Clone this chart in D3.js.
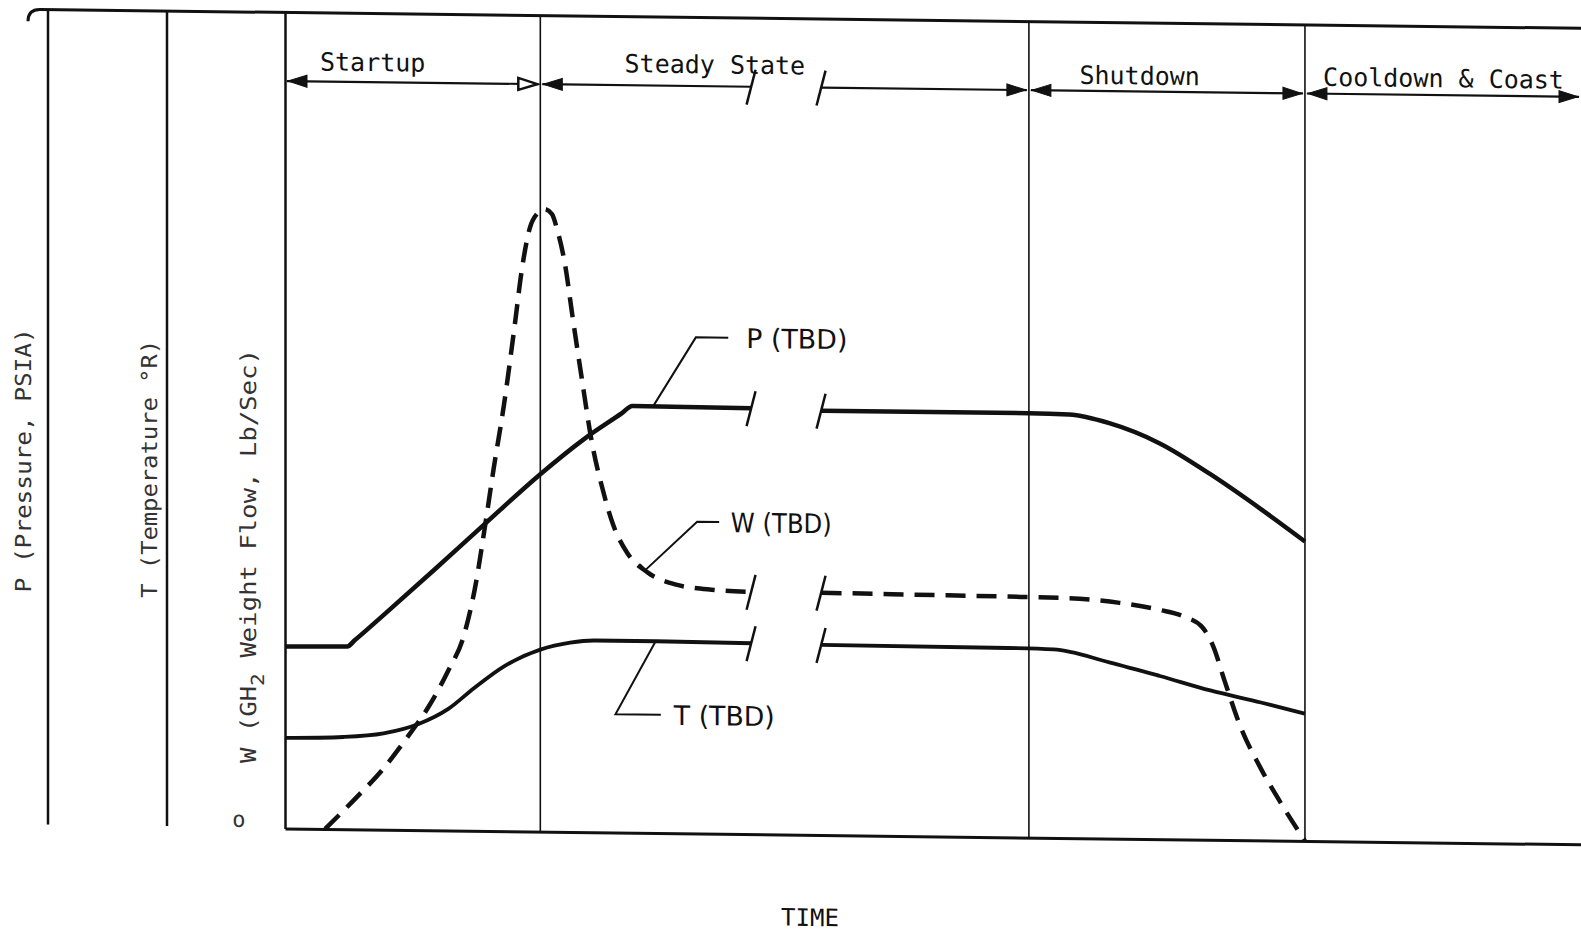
<!DOCTYPE html>
<html>
<head>
<meta charset="utf-8">
<script src="https://cdn.jsdelivr.net/npm/d3@7"></script>
<style>
  html, body { margin: 0; padding: 0; background: #fff; }
  svg { display: block; }
</style>
</head>
<body>
<svg id="chart" width="1581" height="936"></svg>
<script>
// ---- data (time and values in arbitrary chart units, 0-100) ----
var phaseNames = ["Startup", "Steady State", "Shutdown", "Cooldown & Coast"];
var phaseEdges = [0, 19.7, 57.4, 78.7, 100];
var breakGap = [36.0, 41.4]; // time axis is broken inside steady state

var pressureTime = [0, 4.8, 5.4, 7.6, 11.5, 15.4, 19.7, 23.1, 26.0, 26.8, 36.0,
                    41.4, 57.4, 60.5, 63.6, 67.5, 71.4, 75.3, 78.7];
var pressureVals = [22.3, 22.4, 23.2, 26.3, 31.9, 37.6, 43.8, 48.2, 51.4, 52.3, 52.2,
                    52.0, 52.0, 51.9, 50.9, 48.5, 44.8, 40.6, 36.7];

var flowTime = [3.1, 5.2, 7.6, 9.5, 11.1, 12.6, 13.8, 14.7, 15.4, 16.1, 16.9, 17.7, 18.3, 18.9,
                19.5, 20.0, 20.6, 21.0, 21.6, 22.2, 22.9, 23.7, 24.5, 25.3, 26.4, 28.0, 30.1, 32.9, 36.0,
                41.4, 48.0, 55.8, 60.5, 64.4, 67.5, 69.4, 70.8, 71.6, 72.5, 73.7, 75.3, 77.0, 78.7];
var flowVals = [0, 3.4, 7.5, 11.5, 15.2, 19.6, 23.9, 30.1, 37.0, 44.4, 52.3, 61.7, 69.1, 74.0,
                75.8, 76.3, 75.7, 73.8, 69.6, 63.0, 55.6, 47.6, 42.1, 37.8, 34.3, 31.9, 30.5, 29.9, 29.7,
                29.7, 29.6, 29.5, 29.4, 28.9, 28.1, 27.3, 26.0, 23.8, 19.5, 14.0, 8.8, 4.2, 0];

var tempTime = [0, 4.5, 7.6, 10.3, 12.6, 14.6, 16.9, 19.7, 22.0, 23.9, 28.6, 36.0,
                41.4, 55.8, 59.3, 63.6, 67.5, 71.4, 75.3, 78.7];
var tempVals = [11.1, 11.3, 11.8, 13.0, 14.9, 17.5, 20.2, 22.3, 23.2, 23.5, 23.5, 23.4,
                23.3, 23.2, 23.1, 21.6, 20.0, 18.3, 16.9, 15.6];

var axisTitles = ["P (Pressure, PSIA)", "T (Temperature \u00B0R)"];
var curveTags = ["P (TBD)", "W (TBD)", "T (TBD)"];

// ---- layout ----
var SKEW = 0.7; // scanned sheet is sheared a little, lines drift down to the right
var mono = "'DejaVu Sans Mono', 'Liberation Mono', monospace";
var sans = "'DejaVu Sans', 'Liberation Sans', sans-serif";
var ink = "#111";

var x = d3.scaleLinear().domain([0, 100]).range([285, 1581]);
var y = d3.scaleLinear().domain([0, 100]).range([825, 9]);

var svg = d3.select("#chart");
var root = svg.append("g").attr("transform", "skewY(" + SKEW + ")");

// frame
root.append("g")
    .attr("transform", "translate(0," + y(0) + ")")
    .call(d3.axisBottom(x).tickValues([]).tickSizeOuter(0))
    .call(function(g) { g.select(".domain").attr("stroke", ink).attr("stroke-width", 3); });
root.append("g")
    .attr("transform", "translate(" + x(0) + ",0)")
    .call(d3.axisLeft(y).tickValues([]).tickSizeOuter(0))
    .call(function(g) { g.select(".domain").attr("stroke", ink).attr("stroke-width", 2.5); });

root.append("path")
    .attr("d", "M28," + (y(100) + 12) + "Q28," + y(100) + " 40," + y(100) + "H1581")
    .attr("fill", "none").attr("stroke", ink).attr("stroke-width", 3);

// the two extra scale lines on the left (pressure and temperature)
[48, 167].forEach(function(lx) {
  root.append("line")
      .attr("x1", lx).attr("x2", lx)
      .attr("y1", y(100)).attr("y2", y(0) - 1)
      .attr("stroke", ink).attr("stroke-width", 2.5);
});

// phase boundaries
phaseEdges.slice(1, 4).forEach(function(t) {
  root.append("line")
      .attr("x1", x(t)).attr("x2", x(t))
      .attr("y1", y(100)).attr("y2", y(0))
      .attr("stroke", ink).attr("stroke-width", 1.6);
});

function slash(px, py) {
  root.append("line")
      .attr("x1", px - 5).attr("y1", py + 18)
      .attr("x2", px + 4).attr("y2", py - 17)
      .attr("stroke", ink).attr("stroke-width", 2.5);
}

function arrowHead(tipX, tipY, dir, open) {
  var len = 19, half = 6;
  root.append("path")
      .attr("d", "M" + tipX + "," + tipY +
                 "L" + (tipX - dir * len) + "," + (tipY - half) +
                 "L" + (tipX - dir * len) + "," + (tipY + half) + "Z")
      .attr("fill", open ? "#fff" : ink)
      .attr("stroke", ink).attr("stroke-width", open ? 2.5 : 1);
}

// phase arrows and labels
var arrowV = 91.6;
var labelAt = [2.7, 26.2, 61.3, 80.1];
var labelLift = [11, 13, 7, 8];
phaseNames.forEach(function(name, i) {
  var x0 = x(phaseEdges[i]) + 2, x1 = x(phaseEdges[i + 1]) - 2, ay = y(arrowV);
  var spans = i === 1 ? [[x0, x(breakGap[0])], [x(breakGap[1]), x1]] : [[x0, x1]];
  spans.forEach(function(s) {
    root.append("line").attr("x1", s[0]).attr("x2", s[1]).attr("y1", ay).attr("y2", ay)
        .attr("stroke", ink).attr("stroke-width", 2.2);
  });
  if (i === 1) { slash(x(breakGap[0]), ay); slash(x(breakGap[1]), ay); }
  arrowHead(x0 + 1, ay, -1, false);
  arrowHead(x1 - 1, ay, 1, i === 0);
  root.append("text")
      .attr("x", x(labelAt[i])).attr("y", ay - labelLift[i])
      .attr("font-family", mono).attr("font-size", 25).attr("fill", ink)
      .text(name);
});

// curves
var line = d3.line()
    .x(function(d) { return x(d[0]); })
    .y(function(d) { return y(d[1]); })
    .curve(d3.curveMonotoneX);

var series = [
  { times: pressureTime, vals: pressureVals, width: 4.5, dash: null },
  { times: flowTime, vals: flowVals, width: 4.5, dash: "20 11" },
  { times: tempTime, vals: tempVals, width: 3.8, dash: null }
];

series.forEach(function(s) {
  var pts = s.times.map(function(t, i) { return [t, s.vals[i]]; });
  var parts = [pts.filter(function(d) { return d[0] <= breakGap[0]; }),
               pts.filter(function(d) { return d[0] >= breakGap[1]; })];
  parts.forEach(function(seg) {
    root.append("path").datum(seg)
        .attr("d", line)
        .attr("fill", "none")
        .attr("stroke", ink)
        .attr("stroke-width", s.width)
        .attr("stroke-dasharray", s.dash)
        .attr("stroke-linejoin", "round");
  });
  var a = parts[0][parts[0].length - 1], b = parts[1][0];
  slash(x(a[0]), y(a[1]));
  slash(x(b[0]), y(b[1]));
  // piecewise lookup of the curve value, used by the leader lines
  s.at = d3.scaleLinear().domain(s.times).range(s.vals);
});

// leader lines with "(TBD)" tags
var tagAnchorT = [28.4, 27.8, 28.6];
var tagElbowT = [31.7, 31.8, 25.5];
var tagElbowV = [60.8, 38.2, 14.5];
var tagEndT = [34.2, 33.5, 29.0];
var tagTextT = [35.6, 34.4, 30.0];
curveTags.forEach(function(tag, i) {
  var s = series[i];
  var ax = x(tagAnchorT[i]), ay = y(s.at(tagAnchorT[i]));
  var ex = x(tagElbowT[i]), ey = y(tagElbowV[i]);
  root.append("path")
      .attr("d", "M" + ax + "," + ay + "L" + ex + "," + ey + "H" + x(tagEndT[i]))
      .attr("fill", "none").attr("stroke", ink).attr("stroke-width", 2);
  if (i === 1) {
    var dx = ex - ax, dy = ey - ay, n = Math.sqrt(dx * dx + dy * dy);
    var px = -dy / n * 8, py = dx / n * 8;
    root.append("line")
        .attr("x1", ax - px).attr("y1", ay - py).attr("x2", ax + px).attr("y2", ay + py)
        .attr("stroke", ink).attr("stroke-width", 2);
  }
  root.append("text")
      .attr("x", x(tagTextT[i])).attr("y", ey + 10)
      .attr("font-family", sans).attr("font-size", 27).attr("fill", ink)
      .attr("textLength", 101).attr("lengthAdjust", "spacingAndGlyphs")
      .text(tag);
});

// axis titles, written upwards
var titleX = [31, 157];
var titleStart = [592, 596];
var titleLen = [264, 258];
axisTitles.forEach(function(t, i) {
  root.append("text")
      .attr("transform", "translate(" + titleX[i] + "," + titleStart[i] + ") rotate(-90)")
      .attr("font-family", mono).attr("font-size", 22).attr("fill", "#333")
      .attr("textLength", titleLen[i]).attr("lengthAdjust", "spacingAndGlyphs")
      .text(t);
});

var wTitle = root.append("text")
    .attr("transform", "translate(256,760) rotate(-90)")
    .attr("font-family", mono).attr("font-size", 22).attr("fill", "#333")
    .attr("textLength", 414).attr("lengthAdjust", "spacingAndGlyphs");
wTitle.append("tspan").text("W (GH");
wTitle.append("tspan").attr("font-size", 18).attr("dy", 8).text("2");
wTitle.append("tspan").attr("dy", -8).text(" Weight Flow, Lb/Sec)");

root.append("text")
    .attr("x", 239).attr("y", 824)
    .attr("text-anchor", "middle")
    .attr("font-family", mono).attr("font-size", 22).attr("fill", "#333")
    .text("o");

root.append("text")
    .attr("x", x(40.5)).attr("y", 916)
    .attr("text-anchor", "middle")
    .attr("font-family", mono).attr("font-size", 24).attr("fill", ink)
    .attr("textLength", 58).attr("lengthAdjust", "spacingAndGlyphs")
    .text("TIME");
</script>
</body>
</html>
